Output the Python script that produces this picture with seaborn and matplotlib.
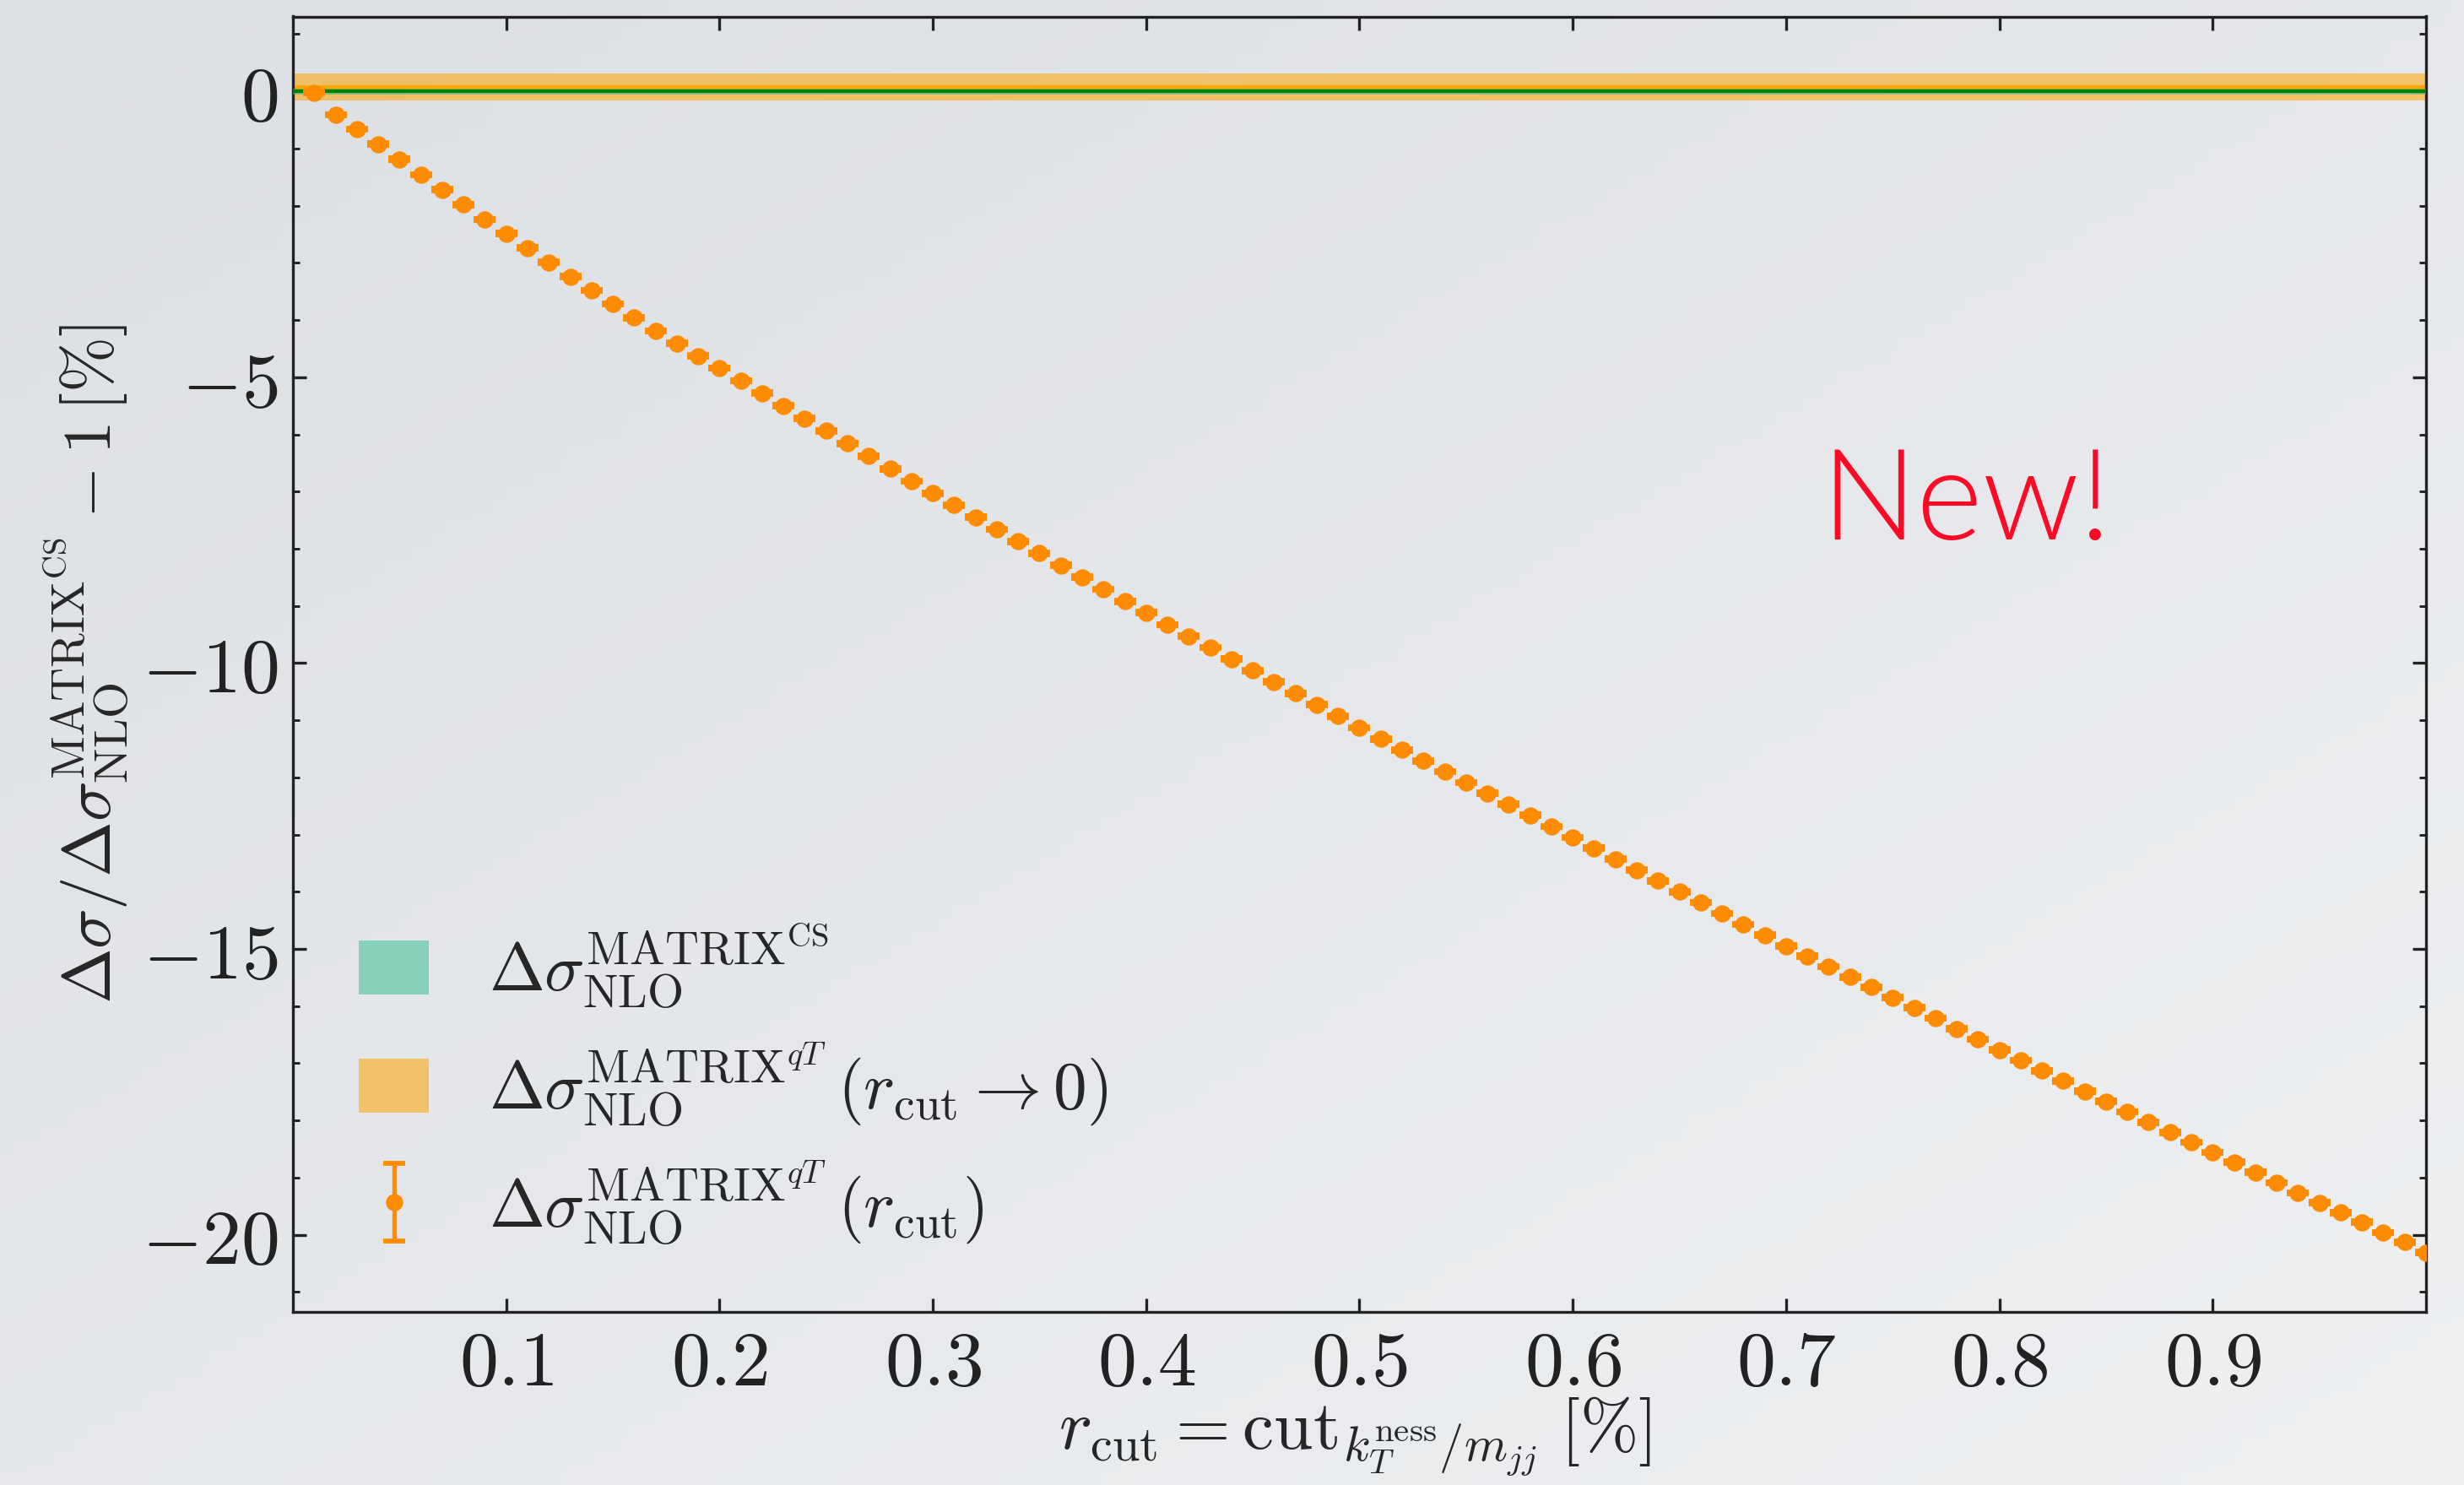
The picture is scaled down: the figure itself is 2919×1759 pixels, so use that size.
import numpy as np
import pandas as pd
import matplotlib
matplotlib.use("Agg")
import matplotlib.pyplot as plt
import seaborn as sns
from matplotlib.ticker import MultipleLocator, FixedLocator, FuncFormatter, NullLocator
from matplotlib.container import ErrorbarContainer
from matplotlib.legend_handler import HandlerErrorbar

# ---------------- data ----------------
rcut = [0.01, 0.02, 0.03, 0.04, 0.05, 0.06, 0.07, 0.08, 0.09, 0.10,
        0.11, 0.12, 0.13, 0.14, 0.15, 0.16, 0.17, 0.18, 0.19, 0.20,
        0.21, 0.22, 0.23, 0.24, 0.25, 0.26, 0.27, 0.28, 0.29, 0.30,
        0.31, 0.32, 0.33, 0.34, 0.35, 0.36, 0.37, 0.38, 0.39, 0.40,
        0.41, 0.42, 0.43, 0.44, 0.45, 0.46, 0.47, 0.48, 0.49, 0.50,
        0.51, 0.52, 0.53, 0.54, 0.55, 0.56, 0.57, 0.58, 0.59, 0.60,
        0.61, 0.62, 0.63, 0.64, 0.65, 0.66, 0.67, 0.68, 0.69, 0.70,
        0.71, 0.72, 0.73, 0.74, 0.75, 0.76, 0.77, 0.78, 0.79, 0.80,
        0.81, 0.82, 0.83, 0.84, 0.85, 0.86, 0.87, 0.88, 0.89, 0.90,
        0.91, 0.92, 0.93, 0.94, 0.95, 0.96, 0.97, 0.98, 0.99, 1.00]

delta = [-0.02, -0.41, -0.66, -0.92, -1.19, -1.46, -1.72, -1.98, -2.24, -2.49,
         -2.74, -2.99, -3.24, -3.48, -3.72, -3.96, -4.19, -4.41, -4.63, -4.84,
         -5.06, -5.28, -5.50, -5.72, -5.94, -6.16, -6.38, -6.60, -6.82, -7.03,
         -7.24, -7.45, -7.66, -7.87, -8.08, -8.29, -8.50, -8.71, -8.92, -9.12,
         -9.33, -9.53, -9.73, -9.93, -10.13, -10.33, -10.53, -10.73, -10.93, -11.13,
         -11.33, -11.52, -11.71, -11.90, -12.09, -12.28, -12.47, -12.66, -12.86, -13.05,
         -13.24, -13.43, -13.62, -13.81, -14.00, -14.19, -14.38, -14.57, -14.76, -14.95,
         -15.13, -15.31, -15.49, -15.67, -15.85, -16.03, -16.21, -16.40, -16.58, -16.77,
         -16.95, -17.13, -17.31, -17.49, -17.67, -17.85, -18.03, -18.21, -18.38, -18.56,
         -18.73, -18.91, -19.09, -19.27, -19.44, -19.61, -19.78, -19.96, -20.13, -20.31]
delta_err = 0.02

band_x = [0.0, 1.0]
cs_center, cs_low, cs_high = 0.0, -0.05, 0.05
q0_center, q0_low, q0_high = 0.08, -0.16, 0.32

xtick_vals = [0.1, 0.2, 0.3, 0.4, 0.5, 0.6, 0.7, 0.8, 0.9]
ytick_vals = [0, -5, -10, -15, -20]

lab_cs = r'$\Delta\sigma^{\mathrm{MATRIX}^{\mathrm{CS}}}_{\mathrm{NLO}}$'
lab_q0 = r'$\Delta\sigma^{\mathrm{MATRIX}^{qT}}_{\mathrm{NLO}}\,(r_{\mathrm{cut}}\rightarrow 0)$'
lab_rc = r'$\Delta\sigma^{\mathrm{MATRIX}^{qT}}_{\mathrm{NLO}}\,(r_{\mathrm{cut}})$'

df = pd.DataFrame({"rcut": rcut, "delta": delta})

# ---------------- style ----------------
sns.set_theme(style="ticks")
plt.rcParams.update({
    "font.family": ["DejaVu Serif"],
    "mathtext.fontset": "cm",
    "axes.linewidth": 0.8,
    "axes.edgecolor": "#222222",
    "xtick.direction": "in",
    "ytick.direction": "in",
    "xtick.top": True,
    "ytick.right": True,
    "xtick.major.size": 3.8,
    "ytick.major.size": 3.8,
    "ytick.minor.size": 2.0,
    "xtick.major.width": 0.8,
    "ytick.major.width": 0.8,
    "ytick.minor.width": 0.7,
    "xtick.color": "#222222",
    "ytick.color": "#222222",
})

W, H = 2919, 1759
fig = plt.figure(figsize=(W / 300, H / 300), dpi=300)

# background gradient (slide-like)
bg = fig.add_axes([0, 0, 1, 1], zorder=-10)
gx, gy = np.meshgrid(np.linspace(0, 1, 200), np.linspace(0, 1, 120))
g = 0.5 * gx + 0.5 * gy
c0 = np.array([0xdc, 0xdf, 0xe3]) / 255.0
c1 = np.array([0xee, 0xf0, 0xf2]) / 255.0
img = c0[None, None, :] * (1 - g[..., None]) + c1[None, None, :] * g[..., None]
bg.imshow(img, extent=[0, 1, 0, 1], aspect="auto", origin="upper")
bg.set_axis_off()

ax = fig.add_axes([347 / W, 1 - 1554 / H, (2874 - 347) / W, (1554 - 19.5) / H])
ax.set_facecolor("none")

# bands
h_q0 = ax.fill_between(band_x, [q0_low] * 2, [q0_high] * 2, color="orange",
                       alpha=0.55, lw=0, zorder=1)
sns.lineplot(x=band_x, y=[q0_center] * 2, color="orange", lw=1.2, ax=ax, zorder=2)
h_cs = ax.fill_between(band_x, [cs_low] * 2, [cs_high] * 2, color="#3cbf94",
                       alpha=0.55, lw=0, zorder=3)
sns.lineplot(x=band_x, y=[cs_center] * 2, color="green", lw=1.0, ax=ax, zorder=4)

# points with error bars (caps form the horizontal bar of each mark)
eb = ax.errorbar(df["rcut"], df["delta"], yerr=delta_err, fmt="o", color="#ff8c00",
                 ms=3.9, elinewidth=1.3, capsize=3.2, capthick=1.4, zorder=5)

ax.set_xlim(0, 1)
ax.set_ylim(-21.35, 1.31)
ax.xaxis.set_major_locator(FixedLocator(xtick_vals))
ax.xaxis.set_minor_locator(NullLocator())
ax.yaxis.set_major_locator(FixedLocator(ytick_vals))
ax.yaxis.set_minor_locator(MultipleLocator(1))
ax.xaxis.set_major_formatter(FuncFormatter(lambda v, p: r"$%.1f$" % v))
ax.yaxis.set_major_formatter(FuncFormatter(lambda v, p: r"$%d$" % round(v)))
ax.tick_params(axis="both", which="major", labelsize=22, pad=4.3)

ax.set_xlabel(r"$r_{\mathrm{cut}} = \mathrm{cut}_{k_T^{\mathrm{ness}}/m_{jj}}\;[\%]$", fontsize=20)
ax.xaxis.label.set_va("center")
ax.xaxis.set_label_coords(0.498, -0.096)
ax.set_ylabel(r"$\Delta\sigma/\Delta\sigma^{\mathrm{MATRIX}^{\mathrm{CS}}}_{\mathrm{NLO}} - 1\,[\%]$", fontsize=19)
ax.yaxis.label.set_va("center")
ax.yaxis.set_label_coords(-0.097, 0.5)

ax.legend(handles=[h_cs, h_q0, eb], labels=[lab_cs, lab_q0, lab_rc],
          loc="lower left", bbox_to_anchor=(0.031, 0.05), borderaxespad=0, borderpad=0,
          frameon=False, fontsize=19, handlelength=1.04, handleheight=0.86,
          handletextpad=0.9, labelspacing=0.45,
          handler_map={ErrorbarContainer: HandlerErrorbar(xerr_size=0.58)})

ax.text(0.7845, -7.84, "New!", color="#ff0a26", fontsize=36, family=["Lato", "DejaVu Sans"],
        fontweight=300, ha="center", va="baseline", zorder=6)

fig.savefig("out.png", dpi=300)
